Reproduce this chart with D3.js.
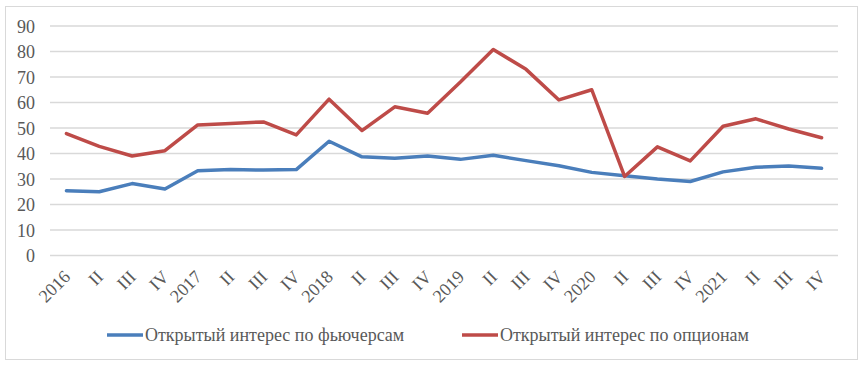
<!DOCTYPE html>
<html><head><meta charset="utf-8">
<script src="https://cdn.jsdelivr.net/npm/d3@7"></script>
<style>body{margin:0;background:#fff}svg{display:block}
svg text{font-family:"Liberation Serif","Times New Roman","DejaVu Serif",serif !important;}</style>
</head><body>
<script>
const categories = ["2016","II","III","IV","2017","II","III","IV","2018","II","III","IV","2019","II","III","IV","2020","II","III","IV","2021","II","III","IV"];
const futures = [25.4,25.0,28.2,26.1,33.2,33.7,33.5,33.7,44.8,38.7,38.1,39.0,37.7,39.3,37.2,35.2,32.6,31.3,30.0,29.0,32.8,34.6,35.1,34.2];
const options = [47.8,42.8,39.0,41.1,51.2,51.8,52.4,47.3,61.3,49.0,58.3,55.8,68.0,80.8,73.0,61.0,65.0,31.0,42.6,37.1,50.7,53.6,49.6,46.2];
const yTicks = [0,10,20,30,40,50,60,70,80,90];
const seriesNames = ["Открытый интерес по фьючерсам","Открытый интерес по опционам"];
const colors = ["#4a7ebb","#be4b48"];

const W=866,H=367;
const svg=d3.select("body").append("svg").attr("width",W).attr("height",H);
svg.append("rect").attr("x",5.5).attr("y",6.5).attr("width",852).attr("height",353)
  .attr("fill","#fff").attr("stroke","#d9d9d9").attr("stroke-width",1);

const x=d3.scaleBand().domain(d3.range(categories.length)).range([50,838]);
const y=d3.scaleLinear().domain([0,90]).range([255.5,26]);
const font="'Liberation Serif','Times New Roman',serif";

const g=svg.append("g");
g.selectAll("line.grid").data(yTicks).join("line").attr("class","grid")
  .attr("x1",50).attr("x2",838).attr("y1",d=>y(d)).attr("y2",d=>y(d))
  .attr("stroke","#d9d9d9").attr("stroke-width",1.5);

const yAxis=svg.append("g").attr("transform","translate(35,0)")
  .call(d3.axisLeft(y).tickValues(yTicks).tickSize(0).tickPadding(0));
yAxis.select(".domain").remove();
yAxis.selectAll("text").attr("font-family",font).attr("font-size",18).attr("fill","#595959").attr("dy","0.34em");

const xAxis=svg.append("g").attr("transform","translate(0,262)")
  .call(d3.axisBottom(x).tickFormat(i=>categories[i]).tickSize(0).tickPadding(0));
xAxis.select(".domain").remove();
xAxis.selectAll("text").attr("font-family",font).attr("font-size",18).attr("fill","#595959")
  .attr("text-anchor","end").attr("x",0).attr("y",0).attr("dx",0).attr("dy",0)
  .attr("transform","translate(5,16) rotate(-45)");

const cx=i=>x(i)+x.bandwidth()/2;
[futures,options].forEach((s,k)=>{
  svg.append("path").datum(s).attr("fill","none").attr("stroke",colors[k])
    .attr("stroke-width",3.5).attr("stroke-linejoin","round").attr("stroke-linecap","round")
    .attr("d",d3.line().x((d,i)=>cx(i)).y(d=>y(d)));
});

const legX=[107,462];
seriesNames.forEach((n,k)=>{
  svg.append("line").attr("x1",legX[k]).attr("x2",legX[k]+36).attr("y1",335).attr("y2",335)
    .attr("stroke",colors[k]).attr("stroke-width",3.5);
  svg.append("text").attr("x",legX[k]+38).attr("y",335).attr("dy","0.34em")
    .attr("font-family",font).attr("font-size",18).attr("fill","#595959").text(n);
});
</script>
</body></html>
